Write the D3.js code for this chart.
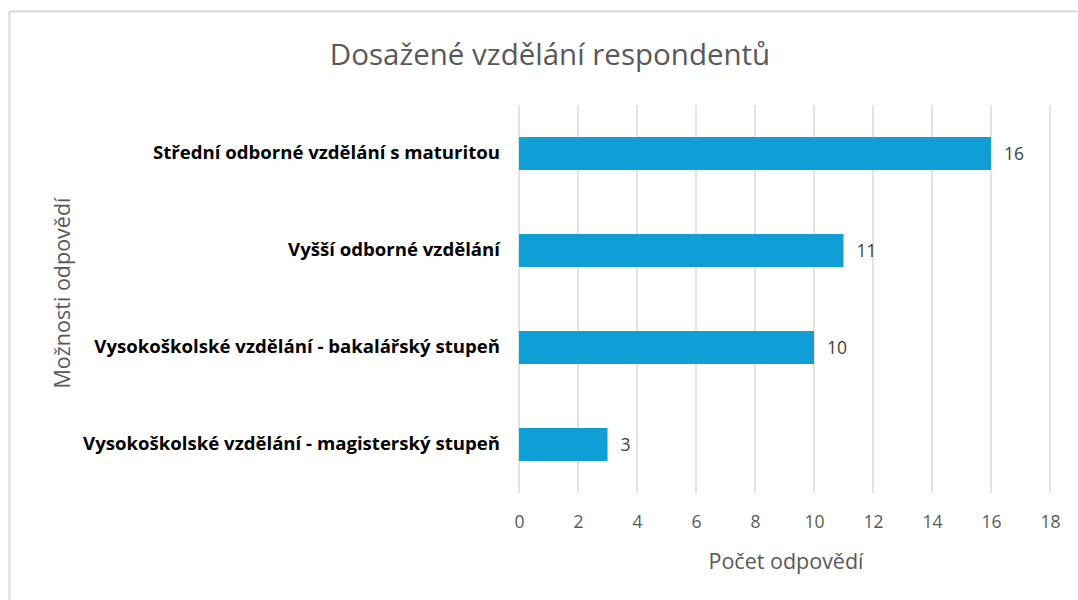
<!DOCTYPE html>
<html>
<head>
<meta charset="utf-8">
<script src="https://cdn.jsdelivr.net/npm/d3@7"></script>
<style>
  body { margin: 0; background: #fff; }
  svg { display: block; }
</style>
</head>
<body>
<svg id="chart" width="1078" height="600"></svg>
<script>
// data
const categories = [
  "Střední odborné vzdělání s maturitou",
  "Vyšší odborné vzdělání",
  "Vysokoškolské vzdělání - bakalářský stupeň",
  "Vysokoškolské vzdělání - magisterský stupeň"
];
const counts = [16, 11, 10, 3];
const xTicks = [0, 2, 4, 6, 8, 10, 12, 14, 16, 18];

const chartTitle = "Dosažené vzdělání respondentů";
const xTitle = "Počet odpovědí";
const yTitle = "Možnosti odpovědí";

const font = "'Open Sans', 'Noto Sans', sans-serif";
const svg = d3.select("#chart");

// chart frame (only top/left edges are visible in the crop)
svg.append("line").attr("x1", 9.5).attr("x2", 1078).attr("y1", 11.5).attr("y2", 11.5)
  .attr("stroke", "#d9d9d9").attr("stroke-width", 2);
svg.append("line").attr("x1", 9.5).attr("x2", 9.5).attr("y1", 11).attr("y2", 600)
  .attr("stroke", "#d9d9d9").attr("stroke-width", 2);

const margin = { left: 519, right: 28, top: 105, bottom: 107 };
const x = d3.scaleLinear().domain([0, 18]).range([margin.left, 1078 - margin.right]);
const y = d3.scaleBand().domain(categories).range([margin.top, 600 - margin.bottom]).paddingInner(0.66).paddingOuter(0.33);

// gridlines
svg.append("g").selectAll("line").data(xTicks).join("line")
  .attr("x1", d => x(d)).attr("x2", d => x(d))
  .attr("y1", margin.top).attr("y2", 600 - margin.bottom)
  .attr("stroke", "#d9d9d9").attr("stroke-width", 1.5);

// bars
svg.append("g").selectAll("rect").data(counts).join("rect")
  .attr("x", x(0))
  .attr("y", (d, i) => y(categories[i]))
  .attr("width", d => x(d) - x(0))
  .attr("height", y.bandwidth())
  .attr("fill", "#0f9ed5");

// value labels
svg.append("g").selectAll("text").data(counts).join("text")
  .attr("x", d => x(d) + 13)
  .attr("y", (d, i) => y(categories[i]) + y.bandwidth() / 2)
  .attr("dy", "0.35em")
  .attr("font-family", font).attr("font-size", 17.5).attr("fill", "#404040")
  .text(d => d);

// x axis
const xAxis = svg.append("g")
  .attr("transform", `translate(0,${600 - margin.bottom})`)
  .call(d3.axisBottom(x).tickValues(xTicks).tickSize(0).tickPadding(23));
xAxis.select(".domain").remove();
xAxis.selectAll("text").attr("font-family", font).attr("font-size", 17.5).attr("fill", "#595959");

// y axis
const yAxis = svg.append("g")
  .attr("transform", `translate(${margin.left},0)`)
  .call(d3.axisLeft(y).tickSize(0).tickPadding(19));
yAxis.select(".domain").remove();
yAxis.selectAll("text").attr("font-family", font).attr("font-size", 18.6)
  .attr("font-weight", "bold").attr("fill", "#000");

// titles
svg.append("text").attr("x", 550).attr("y", 65).attr("text-anchor", "middle")
  .attr("font-family", font).attr("font-size", 29.5).attr("fill", "#595959")
  .text(chartTitle);
svg.append("text").attr("x", 786).attr("y", 569).attr("text-anchor", "middle")
  .attr("font-family", font).attr("font-size", 21.5).attr("fill", "#595959")
  .text(xTitle);
svg.append("text")
  .attr("transform", `translate(70,293) rotate(-90)`)
  .attr("text-anchor", "middle")
  .attr("font-family", font).attr("font-size", 21.5).attr("fill", "#595959")
  .text(yTitle);
</script>
</body>
</html>
